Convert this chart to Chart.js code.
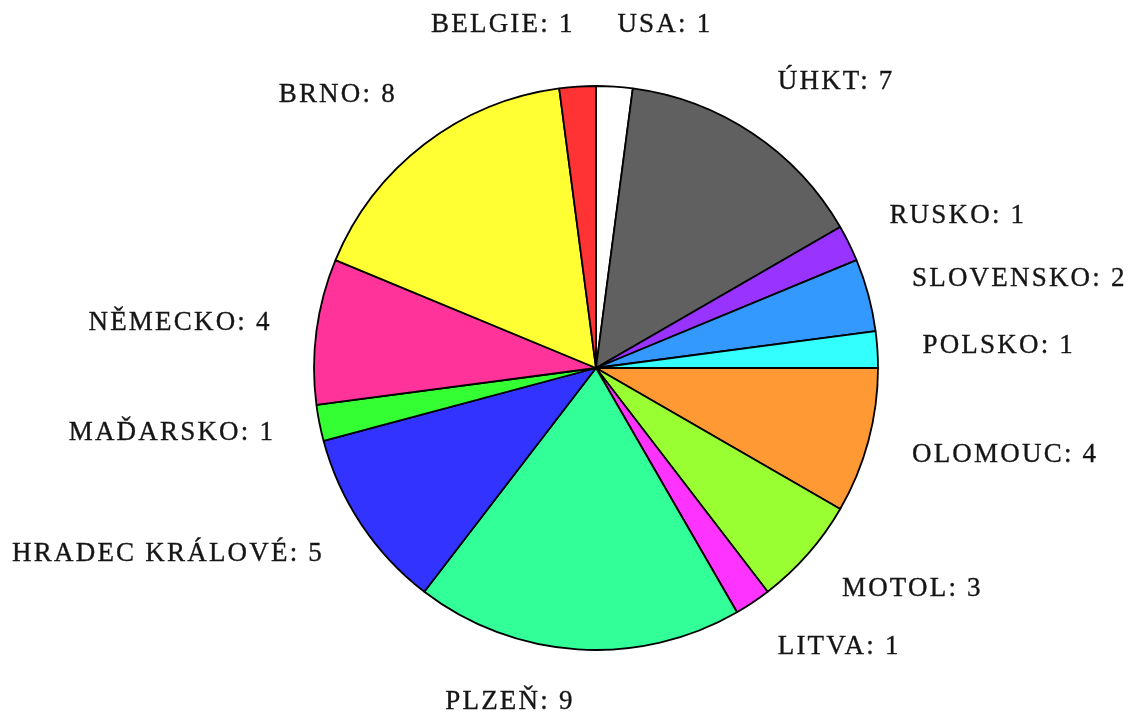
<!DOCTYPE html>
<html>
<head>
<meta charset="utf-8">
<script src="https://cdn.jsdelivr.net/npm/chart.js@4/dist/chart.umd.min.js"></script>
<style>
  html, body { margin: 0; padding: 0; background: #ffffff; }
  #wrap { width: 1128px; height: 712px; }
</style>
</head>
<body>
<div id="wrap"><canvas id="c" width="1128" height="712"></canvas></div>
<script>
const categories = ["USA", "ÚHKT", "RUSKO", "SLOVENSKO", "POLSKO", "OLOMOUC", "MOTOL", "LITVA", "PLZEŇ", "HRADEC KRÁLOVÉ", "MAĎARSKO", "NĚMECKO", "BRNO", "BELGIE"];
const counts = [1, 7, 1, 2, 1, 4, 3, 1, 9, 5, 1, 4, 8, 1];
const sliceColors = ["#ffffff", "#606060", "#9933ff", "#3399ff", "#33ffff", "#ff9933", "#99ff33", "#ff33ff", "#33ff99", "#3333ff", "#33ff33", "#ff3399", "#ffff33", "#ff3333"];

const outsideLabels = {
  id: 'outsideLabels',
  afterDraw(chart) {
    const ctx = chart.ctx;
    const meta = chart.getDatasetMeta(0);
    ctx.save();
    ctx.font = '27px "Liberation Serif", "DejaVu Serif", serif';
    ctx.fillStyle = '#151515';
    ctx.strokeStyle = '#151515';
    ctx.lineWidth = 0.35;
    ctx.textBaseline = 'middle';
    if ('letterSpacing' in ctx) ctx.letterSpacing = '2.2px';
    meta.data.forEach((arc, i) => {
      const p = arc.getProps(['x', 'y', 'startAngle', 'endAngle', 'outerRadius'], true);
      const mid = (p.startAngle + p.endAngle) / 2;
      const cx = Math.cos(mid), sy = Math.sin(mid);
      const rx = p.outerRadius * 1.16;
      const ry = p.outerRadius * (sy < 0 ? 1.22 : 1.188);
      const x = p.x + cx * rx;
      const y = p.y + sy * ry;
      ctx.textAlign = cx >= 0 ? 'left' : 'right';
      const txt = categories[i] + ': ' + counts[i];
      ctx.fillText(txt, x, y);
      ctx.strokeText(txt, x, y);
    });
    ctx.restore();
  }
};

new Chart(document.getElementById('c'), {
  type: 'pie',
  data: {
    labels: categories,
    datasets: [{
      data: counts,
      backgroundColor: sliceColors,
      borderColor: '#000000',
      borderWidth: 1.8,
      borderAlign: 'center'
    }]
  },
  options: {
    responsive: false,
    animation: false,
    radius: 282,
    layout: { padding: { top: 86, bottom: 62, left: 100, right: 36 } },
    plugins: {
      legend: { display: false },
      tooltip: { enabled: false }
    }
  },
  plugins: [outsideLabels]
});
</script>
</body>
</html>
